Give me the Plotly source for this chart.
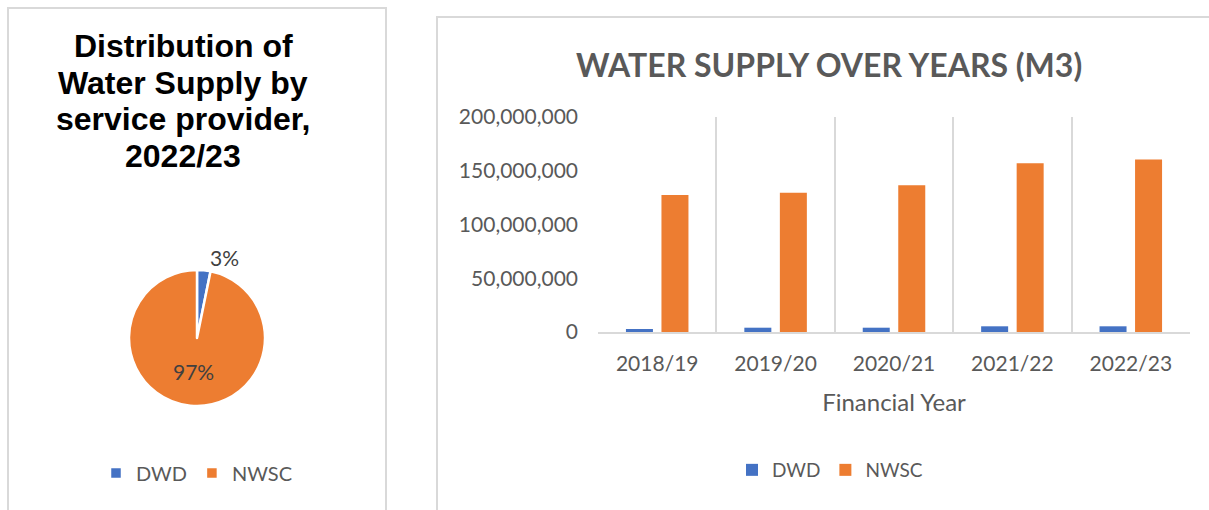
import plotly.graph_objects as go

# ---- data ----
years = ["2018/19", "2019/20", "2020/21", "2021/22", "2022/23"]
dwd = [2.8e6, 4.0e6, 4.0e6, 5.3e6, 5.3e6]
nwsc = [127.4e6, 129.5e6, 136.6e6, 157.0e6, 160.4e6]
pie_labels = ["DWD", "NWSC"]
pie_values = [5.3e6, 160.4e6]
y_ticks = [0, 50e6, 100e6, 150e6, 200e6]
pie_title_lines = ["Distribution of", "Water Supply by", "service provider,", "2022/23"]
bar_title = "WATER SUPPLY OVER YEARS (M3)"
x_title = "Financial Year"

BLUE = "#4472C4"
ORANGE = "#ED7D31"
GRAY = "#595959"
W, H = 1209, 510
FONT = "Lato"


def px(x):
    return x / W


def py(y):
    return 1 - y / H


fig = go.Figure()

fig.add_trace(go.Bar(name="DWD", x=years, y=dwd, marker_color=BLUE,
                     marker_line_width=0, legend="legend"))
fig.add_trace(go.Bar(name="NWSC", x=years, y=nwsc, marker_color=ORANGE,
                     marker_line_width=0, legend="legend"))

fig.add_trace(go.Pie(
    labels=pie_labels, values=pie_values, sort=False, direction="clockwise",
    rotation=0, marker=dict(colors=[BLUE, ORANGE], line=dict(color="white", width=2.5)),
    texttemplate="%{percent:.0%}", textposition=["outside", "inside"],
    insidetextorientation="horizontal",
    textfont=dict(family=FONT, size=21, color="#404040"),
    domain=dict(x=[px(129), px(265)], y=[py(406), py(270)]),
    legend="legend2", hoverinfo="label+value+percent",
))

fig.update_layout(
    width=W, height=H,
    margin=dict(l=0, r=0, t=0, b=0, pad=0, autoexpand=False),
    paper_bgcolor="white", plot_bgcolor="white",
    font=dict(family=FONT, color=GRAY, size=18),
    barmode="group", bargap=0.40, bargroupgap=0.24,
    xaxis=dict(domain=[px(598), px(1190)], tickson="boundaries", showgrid=True,
               gridcolor="#D9D9D9", gridwidth=2, showline=True, linecolor="#D9D9D9",
               linewidth=2, ticks="", tickfont=dict(size=21, color=GRAY),
               ticklabelstandoff=12,
               title=dict(text=x_title, font=dict(size=24, color=GRAY), standoff=20),
               fixedrange=True, automargin=False),
    yaxis=dict(domain=[py(332), py(117)], range=[0, 200e6], tickvals=y_ticks,
               tickformat=",d", showgrid=False, zeroline=False, showline=False,
               tickfont=dict(size=21, color=GRAY), ticklabelstandoff=19, fixedrange=True,
               automargin=False),
    legend=dict(orientation="h", x=px(830), y=py(470), xanchor="center", yanchor="middle",
                font=dict(size=19, color=GRAY), traceorder="normal"),
    legend2=dict(orientation="h", x=px(197), y=py(473), xanchor="center", yanchor="middle",
                 font=dict(size=20, color=GRAY)),
    showlegend=True,
)

# chart titles
fig.add_annotation(text="<b>" + bar_title + "</b>", x=px(829), y=py(64),
                   xref="paper", yref="paper", showarrow=False,
                   xanchor="center", yanchor="middle",
                   font=dict(family=FONT, size=32, color=GRAY))
for i, line in enumerate(pie_title_lines):
    fig.add_annotation(text="<b>" + line + "</b>", x=px(183), y=py(46 + 36.7 * i),
                       xref="paper", yref="paper", showarrow=False,
                       xanchor="center", yanchor="middle",
                       font=dict(family="Liberation Sans", size=32, color="black"))

# panel borders
fig.add_shape(type="rect", xref="paper", yref="paper", x0=px(8), x1=px(386), y0=py(520), y1=py(8),
              line=dict(color="#D9D9D9", width=2))
fig.add_shape(type="rect", xref="paper", yref="paper", x0=px(437), x1=px(1220), y0=py(520), y1=py(17),
              line=dict(color="#D9D9D9", width=2))

fig.write_html("out.html", config={"displayModeBar": False},
               post_script="document.body.style.margin='0';document.body.style.overflow='hidden';")
